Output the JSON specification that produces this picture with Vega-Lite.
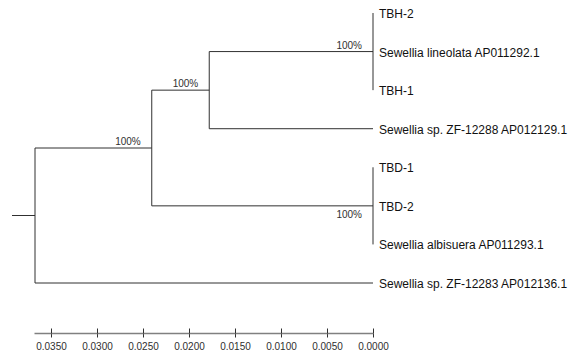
{
  "$schema": "https://vega.github.io/schema/vega-lite/v6.json",
  "width": 574,
  "height": 352,
  "autosize": {"type": "none"},
  "padding": 0,
  "background": "white",
  "config": {"view": {"stroke": null}},
  "datasets": {
    "segments": [
      {"x": 0.03924, "x2": 0.03674, "y": 5.25, "y2": 5.25},
      {"x": 0.03674, "x2": 0.03674, "y": 3.5, "y2": 7},
      {"x": 0.03674, "x2": 0.02405, "y": 3.5, "y2": 3.5},
      {"x": 0.03674, "x2": 0, "y": 7, "y2": 7},
      {"x": 0.02405, "x2": 0.02405, "y": 2, "y2": 5},
      {"x": 0.02405, "x2": 0.0178, "y": 2, "y2": 2},
      {"x": 0.02405, "x2": 0, "y": 5, "y2": 5},
      {"x": 0.0178, "x2": 0.0178, "y": 1, "y2": 3},
      {"x": 0.0178, "x2": 0, "y": 1, "y2": 1},
      {"x": 0.0178, "x2": 0, "y": 3, "y2": 3},
      {"x": 0, "x2": 0, "y": 0, "y2": 2},
      {"x": 0, "x2": 0, "y": 4, "y2": 6}
    ],
    "leaves": [
      {"name": "TBH-2", "x": 0, "y": 0},
      {"name": "Sewellia lineolata AP011292.1", "x": 0, "y": 1},
      {"name": "TBH-1", "x": 0, "y": 2},
      {"name": "Sewellia sp. ZF-12288 AP012129.1", "x": 0, "y": 3},
      {"name": "TBD-1", "x": 0, "y": 4},
      {"name": "TBD-2", "x": 0, "y": 5},
      {"name": "Sewellia albisuera AP011293.1", "x": 0, "y": 6},
      {"name": "Sewellia sp. ZF-12283 AP012136.1", "x": 0, "y": 7}
    ],
    "support": [
      {"x": 0.02405, "y": 3.5, "label": "100%", "side": "above"},
      {"x": 0.0178, "y": 2, "label": "100%", "side": "above"},
      {"x": 0, "y": 1, "label": "100%", "side": "above"},
      {"x": 0, "y": 5, "label": "100%", "side": "below"}
    ]
  },
  "layer": [
    {
      "data": {"name": "segments"},
      "mark": {"type": "rule", "color": "#303030", "strokeWidth": 1},
      "encoding": {
        "x": {
          "field": "x", "type": "quantitative",
          "scale": {"domain": [0, 0.03685], "range": [373, 34], "nice": false, "zero": false},
          "axis": {
            "orient": "bottom", "offset": -19,
            "values": [0, 0.005, 0.01, 0.015, 0.02, 0.025, 0.03, 0.035],
            "format": ".4f", "title": null, "grid": false,
            "domainColor": "#808080", "domainWidth": 1.5,
            "tickColor": "#303030", "tickSize": 4, "tickWidth": 1,
            "labelFont": "Liberation Sans", "labelFontSize": 10, "labelColor": "#303030",
            "labelPadding": 4, "labelFlush": false, "labelOverlap": false
          }
        },
        "x2": {"field": "x2"},
        "y": {"field": "y", "type": "quantitative", "scale": {"domain": [0, 7], "range": [13, 283], "nice": false, "zero": false}, "axis": null},
        "y2": {"field": "y2"}
      }
    },
    {
      "data": {"name": "leaves"},
      "mark": {"type": "text", "align": "left", "baseline": "middle", "dx": 6, "dy": 1, "font": "Liberation Sans", "fontSize": 12, "color": "#111111"},
      "encoding": {
        "x": {
          "field": "x", "type": "quantitative",
          "axis": {
            "orient": "top", "offset": -333,
            "values": [0, 0.005, 0.01, 0.015, 0.02, 0.025, 0.03, 0.035],
            "labels": false, "domain": false, "title": null, "grid": false,
            "tickColor": "#303030", "tickSize": 5, "tickWidth": 1
          }
        },
        "y": {"field": "y", "type": "quantitative", "axis": null},
        "text": {"field": "name"}
      }
    },
    {
      "data": {"name": "support"},
      "transform": [{"filter": "datum.side === 'above'"}],
      "mark": {"type": "text", "align": "right", "baseline": "middle", "dx": -11, "dy": -6, "font": "Liberation Sans", "fontSize": 10, "color": "#303030"},
      "encoding": {
        "x": {"field": "x", "type": "quantitative", "axis": null},
        "y": {"field": "y", "type": "quantitative", "axis": null},
        "text": {"field": "label"}
      }
    },
    {
      "data": {"name": "support"},
      "transform": [{"filter": "datum.side === 'below'"}],
      "mark": {"type": "text", "align": "right", "baseline": "middle", "dx": -11, "dy": 9, "font": "Liberation Sans", "fontSize": 10, "color": "#303030"},
      "encoding": {
        "x": {"field": "x", "type": "quantitative", "axis": null},
        "y": {"field": "y", "type": "quantitative", "axis": null},
        "text": {"field": "label"}
      }
    }
  ],
  "resolve": {"axis": {"x": "independent"}}
}
